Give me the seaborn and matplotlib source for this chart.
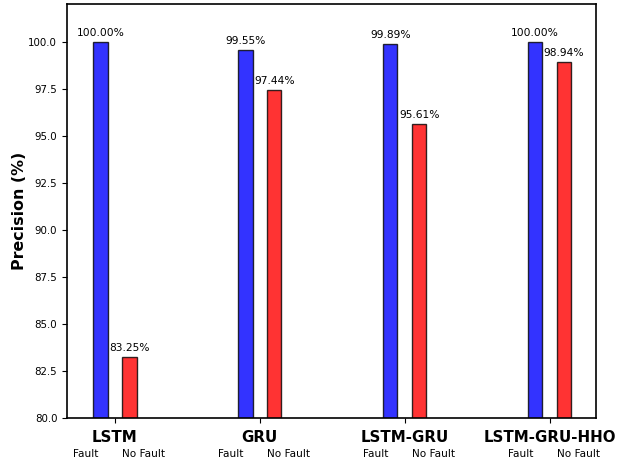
import matplotlib
matplotlib.use("Agg")
import matplotlib.pyplot as plt
import matplotlib.transforms as mtransforms
import seaborn as sns
import pandas as pd

models = ["LSTM", "GRU", "LSTM-GRU", "LSTM-GRU-HHO"]
classes = ["Fault", "No Fault"]
fault_precision = [100.00, 99.55, 99.89, 100.00]
nofault_precision = [83.25, 97.44, 95.61, 98.94]

df = pd.DataFrame({
    "model": models * 2,
    "cls": [classes[0]] * len(models) + [classes[1]] * len(models),
    "precision": fault_precision + nofault_precision,
})

sns.set_style("ticks")
plt.rcParams["font.family"] = ["DejaVu Sans"]
plt.rcParams["text.color"] = "black"
plt.rcParams["axes.labelcolor"] = "black"
plt.rcParams["xtick.color"] = "black"
plt.rcParams["ytick.color"] = "black"

fig, ax = plt.subplots(figsize=(6.19, 4.66), dpi=100)
fig.subplots_adjust(left=67 / 619, right=596 / 619, top=1 - 4 / 466, bottom=1 - 418 / 466)

sns.barplot(
    data=df, x="model", y="precision", hue="cls", order=models, hue_order=classes,
    palette={"Fault": "blue", "No Fault": "red"}, saturation=1,
    width=0.4, gap=0.5, alpha=0.8, edgecolor="black", linewidth=1,
    legend=False, ax=ax, err_kws={"linewidth": 0},
)

ax.set_ylim(80, 102)
ax.set_xlim(-0.33, 3.32)

# value annotations above each bar
for i in range(len(models)):
    for off, vals in ((-0.1, fault_precision), (0.1, nofault_precision)):
        v = vals[i]
        ax.text(i + off, v + 0.2, f"{v:.2f}%", ha="center", va="bottom", fontsize=7.7)

ax.set_xlabel("")
ax.set_ylabel("Precision (%)", fontsize=11.4, fontweight="bold", labelpad=0.8)
ax.set_xticks(range(len(models)))
ax.set_xticklabels(models, fontsize=10.8, fontweight="bold")
ax.tick_params(axis="x", pad=5)
ax.tick_params(axis="y", labelsize=7.4)

# class names beneath each group
trans = mtransforms.blended_transform_factory(ax.transData, ax.transAxes)
for i in range(len(models)):
    ax.text(i - 0.2, -0.086, classes[0], transform=trans, ha="center", va="center", fontsize=7.6)
    ax.text(i + 0.2, -0.086, classes[1], transform=trans, ha="center", va="center", fontsize=7.6)

for s in ax.spines.values():
    s.set_visible(True)
    s.set_color("black")
    s.set_linewidth(1.2)

fig.savefig("out.png", dpi=100)
